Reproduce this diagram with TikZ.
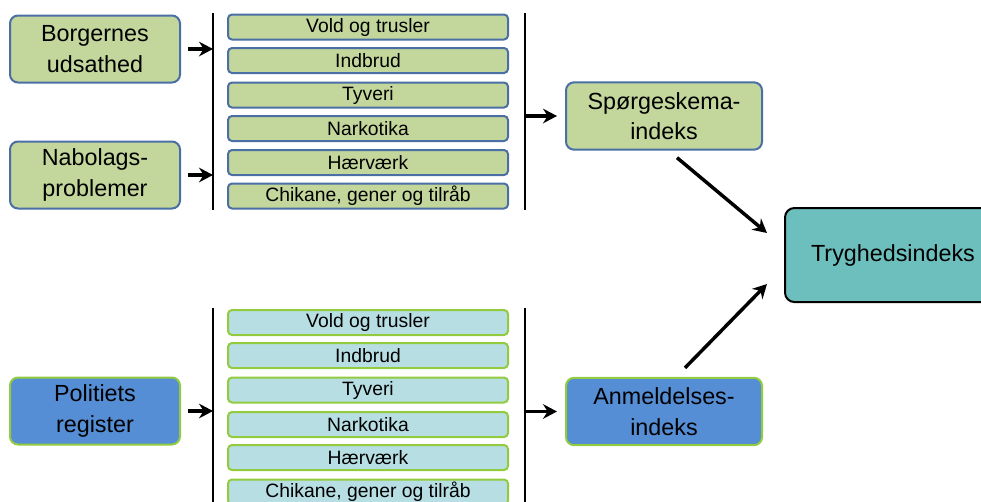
\documentclass[tikz,border=0pt]{standalone}
\usepackage{fontspec}
\setmainfont{Liberation Sans}
\usetikzlibrary{arrows.meta,calc}
\definecolor{gfill}{HTML}{C3D69B}
\definecolor{bborder}{HTML}{4A6FA5}
\definecolor{cfill}{HTML}{B7DEE3}
\definecolor{lborder}{HTML}{92CC3E}
\definecolor{bfill}{HTML}{558ED5}
\definecolor{tfill}{HTML}{6CBFBD}
\begin{document}
\begin{tikzpicture}[x=0.75pt,y=-0.75pt,
  bigtext/.style={font=\fontsize{17.5}{23}\selectfont, align=center, inner sep=0pt},
  smalltext/.style={font=\fontsize{14.5}{16}\selectfont, inner sep=0pt},
  leftbox/.style={bigtext, rounded corners=6pt, line width=1.5pt, minimum width=127.5pt, minimum height=50.25pt},
  midbox/.style={bigtext, rounded corners=6pt, line width=1.5pt, minimum width=147pt, minimum height=50.5pt},
  itembox/.style={smalltext, rounded corners=3pt, line width=1.5pt, minimum width=210pt, minimum height=18.75pt},
  qstyle/.style={fill=gfill, draw=bborder},
  rstyle/.style={draw=lborder},
  arr/.style={line width=2.6pt, -{Stealth[length=10.5pt,width=11pt,inset=3.5pt]}},
  vline/.style={line width=1.5pt}]
\clip (0,0) rectangle (981,501);
% top left boxes
\node[leftbox, qstyle] (b1) at (95,49) {Borgernes\\udsathed};
\node[leftbox, qstyle] (b2) at (95,175) {Nabolags-\\problemer};
\node[leftbox, rstyle, fill=bfill] (b3) at (95,411) {Politiets\\register};
% vertical lines
\coordinate (la1) at (213,13); \coordinate (lb1) at (213,210);
\coordinate (ra1) at (525,13); \coordinate (rb1) at (525,210);
\coordinate (la2) at (213,308); \coordinate (lb2) at (213,505);
\coordinate (ra2) at (525,308); \coordinate (rb2) at (525,505);
\draw[vline] (la1) -- (lb1);
\draw[vline] (ra1) -- (rb1);
\draw[vline] (la2) -- (lb2);
\draw[vline] (ra2) -- (rb2);
% top items
\node[itembox, qstyle] (t1) at (368,27) {Vold og trusler};
\node[itembox, qstyle] (t2) at (368,60.5) {Indbrud};
\node[itembox, qstyle] (t3) at (368,95) {Tyveri};
\node[itembox, qstyle] (t4) at (368,128.5) {Narkotika};
\node[itembox, qstyle] (t5) at (368,162.5) {Hærværk};
\node[itembox, qstyle] (t6) at (368,196) {Chikane, gener og tilråb};
% bottom items
\node[itembox, rstyle, fill=cfill] (u1) at (368,322.5) {Vold og trusler};
\node[itembox, rstyle, fill=cfill] (u2) at (368,355.5) {Indbrud};
\node[itembox, rstyle, fill=cfill] (u3) at (368,390) {Tyveri};
\node[itembox, rstyle, fill=cfill] (u4) at (368,424.5) {Narkotika};
\node[itembox, rstyle, fill=cfill] (u5) at (368,457.5) {Hærværk};
\node[itembox, rstyle, fill=cfill] (u6) at (368,492) {Chikane, gener og tilråb};
% indices
\node[midbox, qstyle] (sp) at (664,116) {Spørgeskema-\\indeks};
\node[midbox, rstyle, fill=bfill] (an) at (664,411.5) {Anmeldelses-\\indeks};
\node[bigtext, rounded corners=7pt, line width=1.5pt, draw=black, fill=tfill, minimum width=162pt, minimum height=70.5pt] (tr) at (893,255) {Tryghedsindeks};
% arrows
\draw[arr, shorten <=5pt] (b1.east) -- (b1.east -| la1);
\draw[arr, shorten <=5pt] (b2.east) -- (b2.east -| la1);
\draw[arr, shorten <=5pt] (b3.east) -- (b3.east -| la2);
\draw[arr, shorten >=6pt] (sp.west -| ra1) -- (sp.west);
\draw[arr, shorten >=6pt] (an.west -| ra2) -- (an.west);
\draw[arr] ($(sp.south)+(13,7)$) -- ($(tr.west)+(-17,-22)$);
\draw[arr] ($(an.north)+(21,-9)$) -- ($(tr.west)+(-17,29)$);
\end{tikzpicture}
\end{document}
